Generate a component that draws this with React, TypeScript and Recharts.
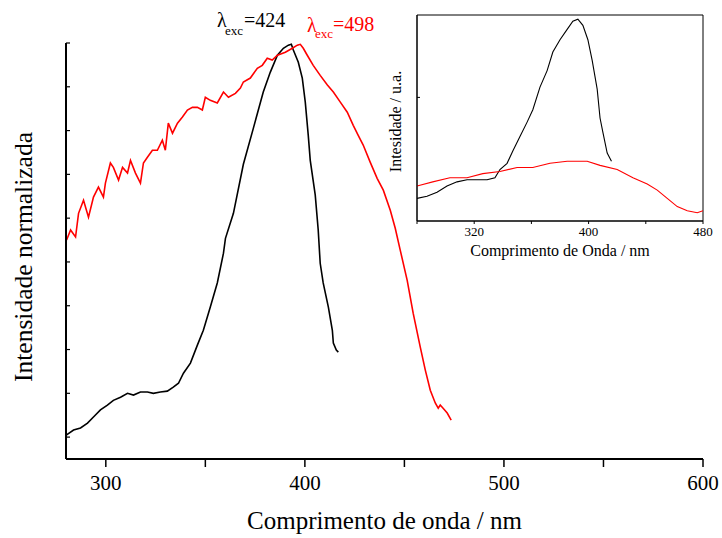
import React from 'react';
import { LineChart, Line, XAxis, YAxis, ReferenceArea } from 'recharts';

// Main chart: wavelength (nm), normalized intensity (arbitrary tick units)
const blackMain: [number, number][] = [
  [280.3, 0.05], [283.8, 0.16], [287.3, 0.21], [290.8, 0.32], [293.8, 0.46], [297.3, 0.62],
  [300.8, 0.73], [303.8, 0.84], [307.4, 0.91], [310.9, 1.0], [313.9, 0.96], [317.4, 1.03],
  [320.9, 1.03], [323.9, 1.0], [327.4, 1.03], [330.9, 1.05], [333.9, 1.14], [336.5, 1.23],
  [339.0, 1.46], [342.5, 1.69], [346.0, 2.1], [349.0, 2.44], [352.5, 2.97], [356.0, 3.52],
  [359.1, 4.2], [360.1, 4.54], [364.1, 5.11], [369.1, 6.23], [374.1, 7.05], [379.1, 7.88],
  [382.6, 8.33], [386.2, 8.72], [389.2, 8.88], [391.7, 8.95], [393.2, 8.97], [394.2, 8.84],
  [396.7, 8.56], [398.7, 8.2], [400.2, 7.65], [401.7, 6.89], [402.7, 6.32], [405.2, 5.53],
  [406.7, 4.73], [407.7, 3.97], [409.2, 3.52], [411.8, 2.97], [413.8, 2.44], [414.3, 2.15],
  [415.8, 1.99], [416.8, 1.94],
];

const redMain: [number, number][] = [
  [280.3, 4.5], [282.3, 4.73], [284.8, 4.57], [286.3, 5.11], [288.8, 5.41], [291.3, 5.02],
  [293.8, 5.48], [296.3, 5.71], [298.8, 5.48], [299.8, 5.8], [302.3, 6.26], [303.8, 6.16],
  [306.4, 5.87], [308.4, 6.16], [310.9, 6.03], [312.4, 6.32], [314.9, 6.03], [317.4, 5.8],
  [318.9, 6.26], [320.9, 6.39], [323.4, 6.55], [325.9, 6.55], [328.4, 6.78], [329.9, 6.55],
  [331.4, 7.17], [333.5, 6.94], [336.0, 7.17], [338.5, 7.31], [341.0, 7.47], [343.5, 7.53],
  [346.0, 7.53], [348.5, 7.47], [350.0, 7.76], [352.5, 7.69], [356.0, 7.63], [359.1, 7.88],
  [361.6, 7.76], [365.1, 7.85], [367.6, 7.97], [369.1, 8.11], [372.6, 8.2], [376.1, 8.42],
  [378.6, 8.49], [381.1, 8.65], [383.6, 8.61], [386.2, 8.72], [390.2, 8.79], [393.7, 8.88],
  [396.2, 8.95], [397.7, 8.97], [399.2, 8.88], [401.2, 8.72], [404.2, 8.49], [407.7, 8.26],
  [411.3, 8.04], [414.3, 7.88], [417.8, 7.65], [421.3, 7.42], [424.3, 7.12], [426.8, 6.89],
  [429.3, 6.67], [432.8, 6.28], [436.3, 5.91], [439.4, 5.64], [442.9, 5.18], [445.4, 4.77],
  [447.9, 4.27], [451.4, 3.58], [454.4, 2.83], [458.0, 2.05], [460.5, 1.53], [463.0, 1.07],
  [465.5, 0.78], [467.0, 0.66], [468.0, 0.73], [469.0, 0.68], [471.5, 0.55], [473.5, 0.39],
];

// Inset: wavelength (nm), intensity (u.a.)
const blackInset: [number, number][] = [
  [280, 0.11], [287, 0.12], [294, 0.14], [301, 0.17], [308, 0.19], [315, 0.2], [322, 0.2],
  [329, 0.2], [334.5, 0.21], [338, 0.25], [343, 0.28], [347, 0.34], [352, 0.41], [357, 0.48],
  [361, 0.54], [366, 0.65], [371, 0.73], [375, 0.82], [380, 0.88], [385, 0.93], [389, 0.97],
  [392.5, 0.98], [396, 0.95], [399.5, 0.88], [402.5, 0.78], [406, 0.64], [408, 0.5],
  [410, 0.43], [413, 0.33], [416, 0.29],
];

const redInset: [number, number][] = [
  [280, 0.17], [291, 0.19], [303, 0.21], [315, 0.21], [326, 0.23], [338, 0.24], [350, 0.26],
  [361, 0.26], [373, 0.28], [385, 0.29], [396, 0.29], [399, 0.29], [408, 0.27], [420, 0.25],
  [431, 0.21], [441, 0.18], [448, 0.15], [455, 0.11], [462, 0.07], [469, 0.05], [476, 0.04],
  [480, 0.05],
];

const mainXTicks = [300, 350, 400, 450, 500, 550, 600];
const mainXLabels = ['300', '', '400', '', '500', '', '600'];
const mainYTicks = [0, 1, 2, 3, 4, 5, 6, 7, 8, 9];
const insetXTicks = [280, 320, 360, 400, 440, 480];
const insetXLabels = ['', '320', '', '400', '', '480'];
const insetYTicks = [0.6];

const toPts = (arr: [number, number][]) => arr.map(([x, y]) => ({ x, y }));

const serif = 'Liberation Serif, Times New Roman, serif';

const InsideTick = (len: number, w: number) => (props: any) => {
  const { x, y } = props;
  return <line x1={x} y1={y} x2={x + len} y2={y} stroke="#000" strokeWidth={w} />;
};

export default function App() {
  return (
    <div style={{ position: 'absolute', left: 0, top: 0, width: 722, height: 538, background: '#fff' }}>
      <div style={{ position: 'absolute', left: 0, top: 0 }}>
        <LineChart width={722} height={538} margin={{ top: 43, right: 19, left: 46, bottom: 0 }}>
          <XAxis
            dataKey="x"
            type="number"
            domain={[280, 600]}
            ticks={mainXTicks}
            tickFormatter={(v: number) => mainXLabels[mainXTicks.indexOf(v)] ?? ''}
            height={79}
            tickSize={8}
            tickMargin={8}
            stroke="#000"
            axisLine={{ stroke: '#000', strokeWidth: 2 }}
            tickLine={{ stroke: '#000', strokeWidth: 1.5 }}
            tick={{ fontFamily: serif, fontSize: 21, fill: '#000' }}
            allowDataOverflow
          />
          <YAxis
            type="number"
            domain={[-0.5, 9]}
            ticks={mainYTicks}
            width={20}
            tickSize={0}
            tickMargin={0}
            tickLine={false}
            tick={InsideTick(4, 1.2)}
            stroke="#000"
            axisLine={{ stroke: '#000', strokeWidth: 2 }}
            allowDataOverflow
          />
          <Line data={toPts(blackMain)} dataKey="y" stroke="#000" strokeWidth={1.6} dot={false} isAnimationActive={false} type="linear" />
          <Line data={toPts(redMain)} dataKey="y" stroke="#ff0000" strokeWidth={1.6} dot={false} isAnimationActive={false} type="linear" />
        </LineChart>
      </div>
      <div style={{ position: 'absolute', left: 400, top: 0 }}>
        <LineChart width={322} height={270} margin={{ top: 15, right: 19, left: 7, bottom: 0 }}>
          <XAxis
            dataKey="x"
            type="number"
            domain={[280, 480]}
            ticks={insetXTicks}
            tickFormatter={(v: number) => insetXLabels[insetXTicks.indexOf(v)] ?? ''}
            height={49}
            tickSize={3}
            tickMargin={3}
            axisLine={{ stroke: '#000', strokeWidth: 1 }}
            tickLine={{ stroke: '#000', strokeWidth: 1 }}
            tick={{ fontFamily: serif, fontSize: 13, fill: '#000' }}
            allowDataOverflow
          />
          <YAxis
            type="number"
            domain={[0, 1]}
            ticks={insetYTicks}
            width={10}
            tickSize={0}
            tickMargin={0}
            tickLine={false}
            tick={InsideTick(3, 1)}
            stroke="#000"
            axisLine={{ stroke: '#000', strokeWidth: 1 }}
            allowDataOverflow
          />
          <ReferenceArea x1={280} x2={480} y1={0} y2={1} fill="none" stroke="#000" strokeWidth={1} ifOverflow="visible" />
          <Line data={toPts(blackInset)} dataKey="y" stroke="#000" strokeWidth={1.1} dot={false} isAnimationActive={false} type="linear" />
          <Line data={toPts(redInset)} dataKey="y" stroke="#ff0000" strokeWidth={1.1} dot={false} isAnimationActive={false} type="linear" />
        </LineChart>
      </div>
      <svg width={722} height={538} style={{ position: 'absolute', left: 0, top: 0, pointerEvents: 'none' }}>
        <text x={32} y={257} transform="rotate(-90 32 257)" textAnchor="middle" fontFamily={serif} fontSize={25.5} fill="#000">
          Intensidade normalizada
        </text>
        <text x={384.5} y={529} textAnchor="middle" fontFamily={serif} fontSize={25} fill="#000">
          Comprimento de onda / nm
        </text>
        <text x={217} y={27} fontFamily={serif} fontSize={20} fill="#000">λ</text>
        <text x={225} y={35} fontFamily={serif} fontSize={13} fill="#000">exc</text>
        <text x={244} y={27} fontFamily={serif} fontSize={20} fill="#000">=424</text>
        <text x={307} y={32} fontFamily={serif} fontSize={20} fill="#ff0000">λ</text>
        <text x={315} y={38} fontFamily={serif} fontSize={13} fill="#ff0000">exc</text>
        <text x={333} y={31} fontFamily={serif} fontSize={20} fill="#ff0000">=498</text>
        <text x={401} y={121.5} transform="rotate(-90 401 121.5)" textAnchor="middle" fontFamily={serif} fontSize={16} fill="#000">
          Intesidade / u.a.
        </text>
        <text x={560} y={256} textAnchor="middle" fontFamily={serif} fontSize={16} fill="#000">
          Comprimento de Onda / nm
        </text>
      </svg>
    </div>
  );
}
